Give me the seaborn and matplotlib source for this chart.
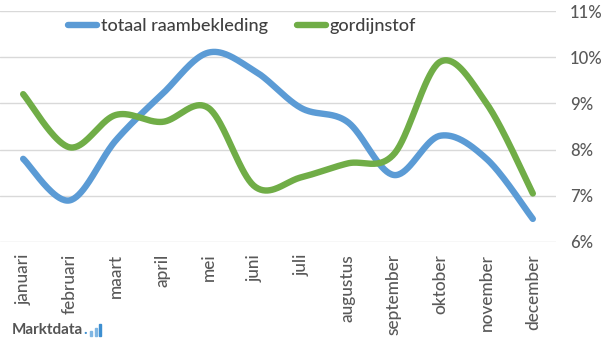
import numpy as np
import pandas as pd
import matplotlib
matplotlib.use("Agg")
import matplotlib.pyplot as plt
from matplotlib.patches import Rectangle
from matplotlib.lines import Line2D
import seaborn as sns

months = ["januari", "februari", "maart", "april", "mei", "juni", "juli",
          "augustus", "september", "oktober", "november", "december"]
totaal_raambekleding = [7.8, 6.9, 8.2, 9.2, 10.1, 9.7, 8.9, 8.6, 7.45, 8.3, 7.8, 6.5]
gordijnstof = [9.2, 8.05, 8.75, 8.6, 8.9, 7.2, 7.4, 7.7, 7.9, 9.9, 9.0, 7.05]
y_ticks = [6, 7, 8, 9, 10, 11]
y_tick_labels = ["6%", "7%", "8%", "9%", "10%", "11%"]

series_names = ["totaal raambekleding", "gordijnstof"]
colors = {"totaal raambekleding": "#5b9bd5", "gordijnstof": "#70ad47"}


def smooth(values, steps=40):
    """Bezier smoothing through the points (Catmull-Rom style, like spreadsheet smoothed lines)."""
    p = np.column_stack([np.arange(len(values), dtype=float), np.asarray(values, float)])
    n = len(p)
    out = []
    for i in range(n - 1):
        p0 = p[max(i - 1, 0)]
        p1 = p[i]
        p2 = p[i + 1]
        p3 = p[min(i + 2, n - 1)]
        c1 = p1 + (p2 - p0) / 6.0
        c2 = p2 - (p3 - p1) / 6.0
        t = np.linspace(0, 1, steps, endpoint=(i == n - 2))[:, None]
        seg = ((1 - t) ** 3) * p1 + 3 * ((1 - t) ** 2) * t * c1 + 3 * (1 - t) * t ** 2 * c2 + t ** 3 * p2
        out.append(seg)
    return np.vstack(out)


frames = []
for name, vals in zip(series_names, [totaal_raambekleding, gordijnstof]):
    curve = smooth(vals)
    frames.append(pd.DataFrame({"x": curve[:, 0], "waarde": curve[:, 1], "reeks": name}))
df = pd.concat(frames, ignore_index=True)

sns.set_theme(style="white")
plt.rcParams["font.family"] = ["Lato", "DejaVu Sans"]

W, H = 605, 344
fig = plt.figure(figsize=(W / 100, H / 100), dpi=100)
ax = fig.add_axes([0 / W, 1 - 242 / H, 556 / W, (242 - 11) / H])

for y in y_ticks:
    ax.axhline(y, color="#d9d9d9", lw=1.0, zorder=0)

sns.lineplot(data=df, x="x", y="waarde", hue="reeks", hue_order=series_names,
             palette=colors, lw=4.6, sort=False, estimator=None, ax=ax,
             legend=False, solid_capstyle="round")

ax.set_xlim(-0.5, 11.5)
ax.set_ylim(6, 11)
ax.set_xticks(range(len(months)))
ax.set_xticklabels(months, rotation=90, fontsize=12.4, color="#595959",
                   fontweight="medium")
ax.set_yticks(y_ticks)
ax.set_yticklabels(y_tick_labels, fontsize=12, color="#595959", fontweight="medium")
ax.yaxis.tick_right()
ax.tick_params(axis="y", length=0, pad=10)
ax.tick_params(axis="x", length=0, pad=8.5)
ax.set_xlabel("")
ax.set_ylabel("")
for s in ax.spines.values():
    s.set_visible(False)

handles = [Line2D([0], [0], color=colors[n], lw=4.6, solid_capstyle="round") for n in series_names]
leg = fig.legend(handles, series_names, loc="center", ncol=2,
                 bbox_to_anchor=(242 / W, 1 - 26 / H), frameon=False,
                 labelcolor="#404040", handlelength=1.6,
                 handletextpad=0.2, columnspacing=1.6,
                 prop={"size": 13, "weight": "medium"})

# Marktdata logo
logo = fig.text(12 / W, 1 - 330 / H, "Marktdata", fontsize=11, fontweight="bold",
                color="#555555", va="center", ha="left")
fig.canvas.draw()
bb = logo.get_window_extent()
x_end = bb.x1
fig.text((x_end + 0.5) / W, 1 - 330 / H, ".", fontsize=11, fontweight="bold",
         color="#3d8fd1", va="center", ha="left")
bar_specs = [(5, "#7fb6e3"), (8, "#7fb6e3"), (12, "#3d8fd1")]
for i, (h, c) in enumerate(bar_specs):
    fig.patches.append(Rectangle(((x_end + 7 + i * 4.5) / W, (H - 336) / H), 2.2 / W, h / H,
                                 transform=fig.transFigure, color=c))

fig.savefig("out.png", dpi=100)
